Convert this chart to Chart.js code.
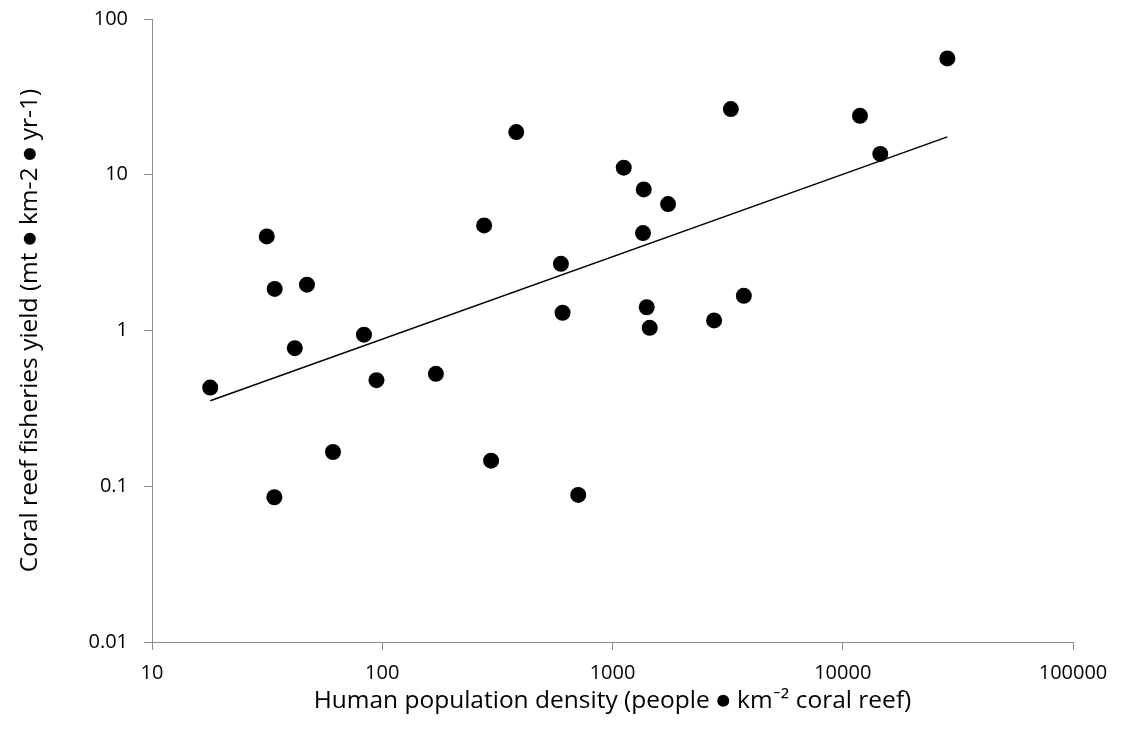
<!DOCTYPE html>
<html>
<head>
<meta charset="utf-8">
<script src="https://cdn.jsdelivr.net/npm/chart.js@4/dist/chart.umd.min.js"></script>
<style>
  html, body { margin: 0; padding: 0; background: #ffffff; }
  #wrap { width: 1128px; height: 733px; }
</style>
</head>
<body>
<div id="wrap"><canvas id="chart" width="1128" height="733"></canvas></div>
<script>
// Human population density per site (people per km² of coral reef)
const densityValues = [17.9, 31.5, 34.1, 47.1, 41.7, 83.3, 94.4, 61.1, 34.0,
  382, 277, 597, 607, 171, 297, 710,
  3266, 1119, 1367, 1743, 1357, 1408, 1451, 2762, 3719,
  28470, 11880, 14555];
// Coral reef fisheries yield per site (mt per km² per year)
const yieldValues = [0.43, 4.02, 1.85, 1.97, 0.77, 0.94, 0.48, 0.166, 0.085,
  18.8, 4.73, 2.68, 1.30, 0.527, 0.146, 0.088,
  26.4, 11.1, 8.05, 6.48, 4.22, 1.41, 1.04, 1.16, 1.67,
  55.8, 23.9, 13.6];
// Power-law trend line endpoints
const trendDensity = [17.9, 28470];
const trendYield = [0.354, 17.5];

const xTickValues = [10, 100, 1000, 10000, 100000];
const xTickLabels = ['10', '100', '1000', '10000', '100000'];
const yTickValues = [0.01, 0.1, 1, 10, 100];
const yTickLabels = ['0.01', '0.1', '1', '10', '100'];

const FONT = "'Open Sans', Lato, sans-serif";
const AXIS_GREY = '#8c8c8c';

const sitePoints = densityValues.map((d, i) => ({ x: d, y: yieldValues[i] }));
const trendPoints = trendDensity.map((d, i) => ({ x: d, y: trendYield[i] }));

new Chart(document.getElementById('chart'), {
  type: 'scatter',
  data: {
    datasets: [
      {
        label: 'Trend',
        type: 'line',
        data: trendPoints,
        borderColor: '#000000',
        borderWidth: 1.5,
        pointRadius: 0,
        fill: false,
        tension: 0,
        order: 0
      },
      {
        label: 'Sites',
        data: sitePoints,
        backgroundColor: '#000000',
        borderColor: '#000000',
        pointRadius: 8,
        pointHoverRadius: 8,
        borderWidth: 0,
        order: 1
      }
    ]
  },
  options: {
    responsive: false,
    animation: false,
    devicePixelRatio: 1,
    layout: { padding: { top: 19, right: 55, bottom: 0, left: 0 } },
    plugins: {
      legend: { display: false },
      tooltip: { enabled: false }
    },
    scales: {
      x: {
        type: 'logarithmic',
        min: 10,
        max: 100000,
        afterBuildTicks: s => { s.ticks = xTickValues.map(v => ({ value: v })); },
        afterFit: s => { s.height = 91; s.paddingLeft = 0; s.paddingRight = 0; },
        border: { display: true, color: AXIS_GREY, width: 1 },
        grid: { display: true, drawOnChartArea: false, drawTicks: true, tickLength: 8, color: AXIS_GREY },
        ticks: {
          padding: 11,
          color: '#000000',
          font: { family: FONT, size: 20 },
          maxRotation: 0,
          autoSkip: false,
          callback: v => xTickLabels[xTickValues.indexOf(v)]
        },
        title: {
          display: true,
          text: 'Human population density (people \u25CF km\u207B\u00B2 coral reef)',
          color: '#000000',
          font: { family: FONT, size: 24.5 },
          padding: { top: 0, bottom: 17 }
        }
      },
      y: {
        type: 'logarithmic',
        min: 0.01,
        max: 100,
        afterBuildTicks: s => { s.ticks = yTickValues.map(v => ({ value: v })); },
        afterFit: s => { s.width = 152; s.paddingTop = 0; s.paddingBottom = 0; },
        border: { display: true, color: AXIS_GREY, width: 1 },
        grid: { display: true, drawOnChartArea: false, drawTicks: true, tickLength: 8, color: AXIS_GREY },
        ticks: {
          padding: 16,
          color: '#000000',
          font: { family: FONT, size: 20 },
          autoSkip: false,
          callback: v => yTickLabels[yTickValues.indexOf(v)]
        },
        title: {
          display: true,
          text: 'Coral reef fisheries yield (mt \u25CF km-2 \u25CF yr-1)',
          color: '#000000',
          font: { family: FONT, size: 24.5 },
          padding: { top: 15, bottom: 0 }
        }
      }
    }
  }
});
</script>
</body>
</html>
